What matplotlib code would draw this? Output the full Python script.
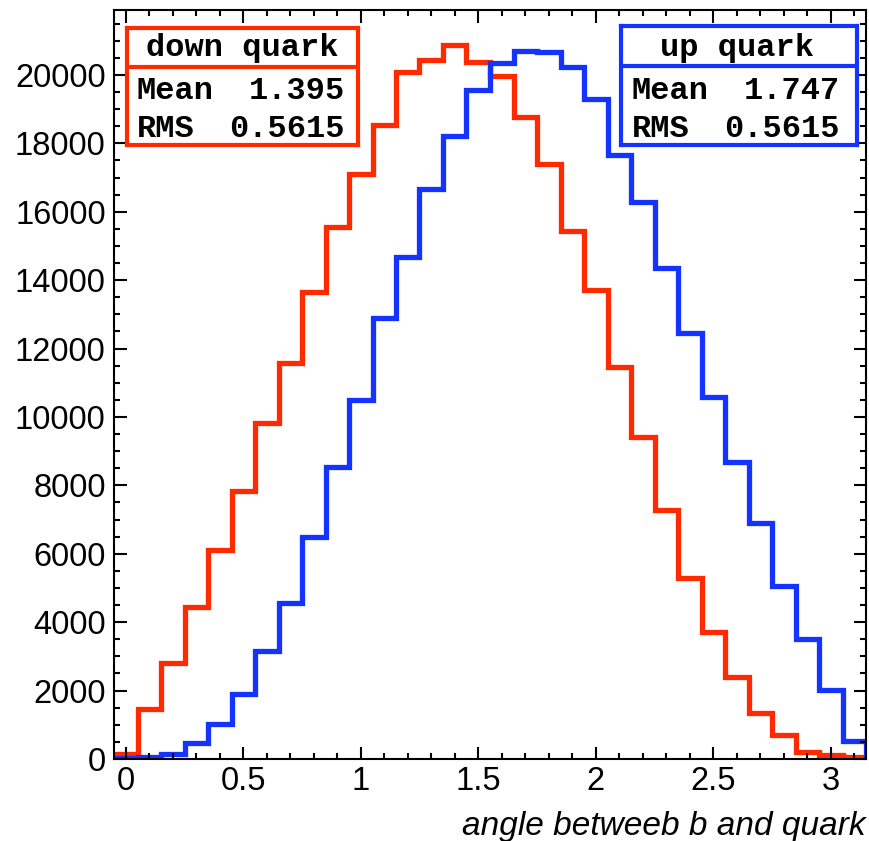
import numpy as np
import matplotlib
matplotlib.use("Agg")
import matplotlib.pyplot as plt
from matplotlib.ticker import MultipleLocator

# ---- data ----
bin_edges = np.linspace(-0.05, 3.15, 33)
down_counts = [140, 1450, 2820, 4440, 6110, 7850, 9815, 11570, 13650, 15550,
               17100, 18530, 20100, 20440, 20880, 20390, 19980, 18780, 17400, 15450,
               13710, 11470, 9420, 7280, 5280, 3720, 2410, 1340, 700, 210, 120, 70]
up_counts = [30, 50, 146, 477, 1023, 1890, 3167, 4552, 6500, 8547,
             10497, 12904, 14669, 16657, 18225, 19561, 20341, 20711, 20663, 20243,
             19298, 17661, 16295, 14348, 12465, 10594, 8675, 6891, 5058, 3509, 2018, 526]
down_label = "down quark"
up_label = "up quark"
down_stats = ("1.395", "0.5615")
up_stats = ("1.747", "0.5615")
x_label = "angle betweeb b and quark"

red = "#ff2a00"
blue = "#1433ff"

plt.rcParams['font.family'] = ['Liberation Sans', 'DejaVu Sans']

fig = plt.figure(figsize=(8.69, 8.41), dpi=100)
ax = fig.add_axes([114/869, 1-759/841, (866-114)/869, (759-10)/841])

ax.stairs(down_counts, bin_edges, color=red, lw=3.8)
ax.stairs(up_counts, bin_edges, color=blue, lw=3.8)

ax.set_xlim(-0.05, 3.15)
ax.set_ylim(0, 21900)
ax.xaxis.set_major_locator(MultipleLocator(0.5))
ax.xaxis.set_minor_locator(MultipleLocator(0.1))
ax.yaxis.set_major_locator(MultipleLocator(2000))
ax.yaxis.set_minor_locator(MultipleLocator(500))
ax.xaxis.set_major_formatter(plt.FuncFormatter(lambda v, p: f"{v:g}"))
ax.tick_params(which='both', direction='in', top=True, right=True, width=1.5,
               labelsize=23.5)
ax.tick_params(which='major', length=9)
ax.tick_params(which='minor', length=4.5)
ax.tick_params(axis='y', pad=6)
ax.tick_params(axis='x', pad=5)
for s in ax.spines.values():
    s.set_linewidth(1.5)

fig.text(866/869, 1-826/841, x_label, ha='right', va='center',
         fontsize=24, style='italic')

mono = dict(family='Liberation Mono', weight='bold', fontsize=23)

def stat_box(rect, color, title, stats, div, tx, ty, lx, rx, my, ry):
    bax = fig.add_axes(rect)
    bax.set_xticks([]); bax.set_yticks([])
    bax.set_xlim(0, 1); bax.set_ylim(0, 1)
    for s in bax.spines.values():
        s.set_color(color); s.set_linewidth(3)
    bax.axhline(div, color=color, lw=3)
    bax.text(tx, ty, title, ha='center', va='center', **mono)
    bax.text(lx, my, "Mean", ha='left', va='center', **mono)
    bax.text(rx, my, stats[0], ha='right', va='center', **mono)
    bax.text(lx, ry, "RMS", ha='left', va='center', **mono)
    bax.text(rx, ry, stats[1], ha='right', va='center', **mono)

stat_box([127/869, 1-145/841, 231/869, 117/841], red, down_label, down_stats,
         0.669, 0.5, 0.83, 0.043, 0.944, 0.462, 0.137)
stat_box([621/869, 1-145/841, 236/869, 119/841], blue, up_label, up_stats,
         0.666, 0.49, 0.815, 0.045, 0.928, 0.455, 0.135)

fig.savefig("out.png", dpi=100)
